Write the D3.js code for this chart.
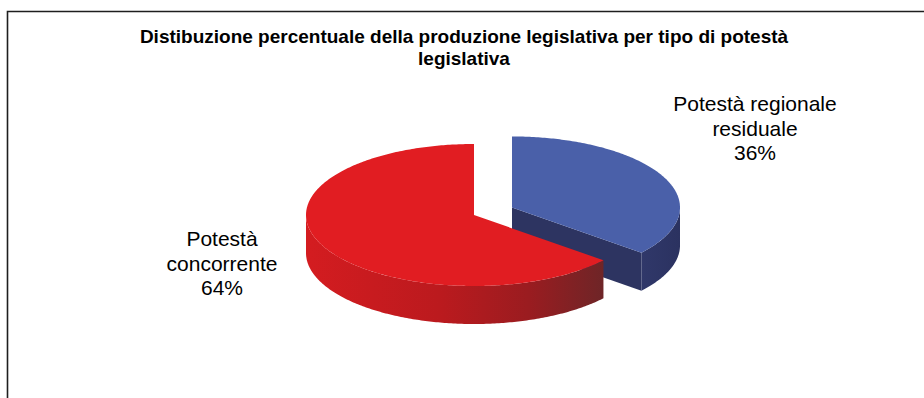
<!DOCTYPE html>
<html>
<head>
<meta charset="utf-8">
<script src="https://cdn.jsdelivr.net/npm/d3@7"></script>
<style>
  html, body { margin: 0; padding: 0; background: #fff; }
  svg { display: block; }
  text { font-family: "Liberation Sans", Arial, sans-serif; }
</style>
</head>
<body>
<svg id="chart" width="924" height="398"></svg>
<script>
// Chart content
const title = "Distibuzione percentuale della produzione legislativa per tipo di potestà legislativa";
const categories = ["Potestà regionale residuale", "Potestà concorrente"];
const values = [36, 64];

// Layout and styling
const W = 924, H = 398;
const cx = 474, cy = 215;           // centre of the pie's top ellipse
const rx = 168, ry = 71;            // ellipse radii of the tilted disc
const depth = 38;                   // thickness of the 3D disc
const explode = [0.25, 0];          // outward offset of each slice, fraction of radius
const topColors = ["#4a60a9", "#e11d22"];
const cutColors = ["#2d3461", "#7a2326"];
const labelLayout = [
  { x: 755, y: 111, maxWidth: 185 },
  { x: 222, y: 246, maxWidth: 130 }
];
const labelLineHeight = 24.5;

const svg = d3.select("#chart");
const defs = svg.append("defs");

// Frame of the chart area
svg.append("path")
  .attr("d", `M7.5,${H} V11.5 H${W}`)
  .attr("fill", "none")
  .attr("stroke", "#1e1e1e")
  .attr("stroke-width", 1.6);

// Word-wrap helper using measured text widths
function wrap(textSel, words, maxWidth) {
  const lines = [];
  let line = [];
  const probe = textSel.append("tspan");
  words.forEach(w => {
    const trial = line.concat([w]).join(" ");
    probe.text(trial);
    if (line.length && probe.node().getComputedTextLength() > maxWidth) {
      lines.push(line.join(" "));
      line = [w];
    } else {
      line.push(w);
    }
  });
  if (line.length) lines.push(line.join(" "));
  probe.remove();
  return lines;
}

// Title
const titleText = svg.append("text")
  .attr("text-anchor", "middle")
  .attr("font-size", 19)
  .attr("font-weight", "bold")
  .attr("fill", "#000");
const titleLines = wrap(titleText, title.split(" "), 690);
titleText.selectAll("tspan.line").data(titleLines).join("tspan")
  .attr("class", "line")
  .attr("x", 464)
  .attr("y", (d, i) => 43 + i * 21.5)
  .text(d => d);

// Pie angles (clockwise from 12 o'clock)
const pie = d3.pie().sort(null).startAngle(0).endAngle(2 * Math.PI);
const slices = pie(values).map((s, i) => {
  const mid = (s.startAngle + s.endAngle) / 2;
  return {
    ...s, i,
    ox: explode[i] * rx * Math.sin(mid),
    oy: -explode[i] * ry * Math.cos(mid)
  };
});

function pt(a, s, dz) {
  return [cx + s.ox + rx * Math.sin(a), cy + s.oy - ry * Math.cos(a) + dz];
}
function arcPts(a0, a1, s, dz) {
  const n = Math.max(2, Math.ceil((a1 - a0) / (Math.PI / 240)));
  return d3.range(n + 1).map(k => pt(a0 + (a1 - a0) * k / n, s, dz));
}
const line = d3.line();

// Horizontal shading for the red outer wall
const gradRed = defs.append("linearGradient").attr("id", "wall1")
  .attr("x1", 0).attr("x2", 1).attr("y1", 0).attr("y2", 0);
[[0, "#d41c20"], [0.45, "#bb1a1e"], [0.75, "#9a1c20"], [1, "#6e2527"]]
  .forEach(([o, c]) => gradRed.append("stop").attr("offset", o).attr("stop-color", c));
const gradBlue = defs.append("linearGradient").attr("id", "wall0")
  .attr("x1", 0).attr("x2", 1).attr("y1", 0).attr("y2", 0);
[[0, "#30386a"], [1, "#2b3260"]]
  .forEach(([o, c]) => gradBlue.append("stop").attr("offset", o).attr("stop-color", c));

// Draw slices back to front
const order = slices.slice().sort((a, b) => a.oy - b.oy);
const g = svg.append("g");

order.forEach(s => {
  const sg = g.append("g").attr("class", "slice");
  const c0 = [cx + s.ox, cy + s.oy];

  // Radial cut faces, drawn only when they face the viewer
  [[s.startAngle, s.startAngle - Math.PI / 2], [s.endAngle, s.endAngle + Math.PI / 2]]
    .forEach(([a, normal]) => {
      if (Math.cos(normal) < -1e-6) {
        const p = pt(a, s, 0), pb = pt(a, s, depth);
        sg.append("path")
          .attr("d", line([c0, p, pb, [c0[0], c0[1] + depth]]) + "Z")
          .attr("fill", cutColors[s.i]);
      }
    });

  // Outer wall: the front half of the rim
  const lo = Math.max(s.startAngle, Math.PI / 2);
  const hi = Math.min(s.endAngle, 3 * Math.PI / 2);
  if (hi > lo) {
    const pts = arcPts(lo, hi, s, 0).concat(arcPts(lo, hi, s, depth).reverse());
    sg.append("path")
      .attr("d", line(pts) + "Z")
      .attr("fill", `url(#wall${s.i})`);
  }

  // Top face
  sg.append("path")
    .attr("d", line([c0].concat(arcPts(s.startAngle, s.endAngle, s, 0))) + "Z")
    .attr("fill", topColors[s.i]);
});

// Data labels: category name and percentage
slices.forEach(s => {
  const L = labelLayout[s.i];
  const t = svg.append("text")
    .attr("text-anchor", "middle")
    .attr("font-size", 21)
    .attr("fill", "#000");
  const lines = wrap(t, categories[s.i].split(" "), L.maxWidth).concat([`${values[s.i]}%`]);
  t.selectAll("tspan.line").data(lines).join("tspan")
    .attr("class", "line")
    .attr("x", L.x)
    .attr("y", (d, k) => L.y + k * labelLineHeight)
    .text(d => d);
});
</script>
</body>
</html>
